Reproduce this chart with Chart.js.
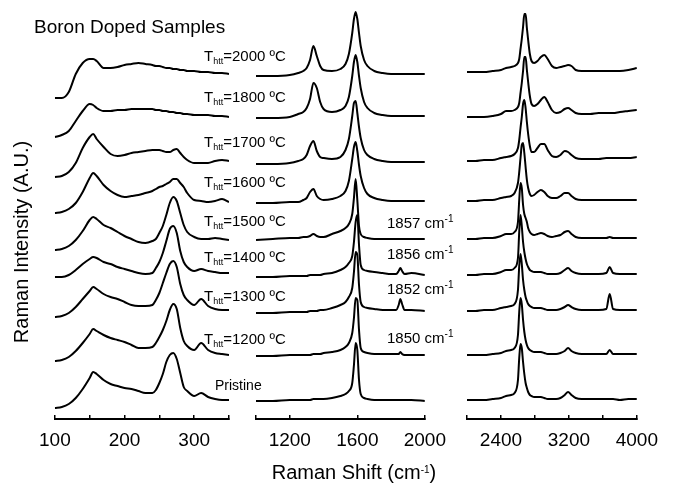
<!DOCTYPE html>
<html>
<head>
<meta charset="utf-8">
<script src="https://cdn.jsdelivr.net/npm/chart.js@4.4.0/dist/chart.umd.min.js"></script>
<style>
  body { margin: 0; background: #fff; }
  #fig { position: relative; width: 674px; height: 486px; overflow: hidden; font-family: "Liberation Sans", Arial, sans-serif; color: #000; }
  #fig canvas { position: absolute; top: 0; }
  .lbl { position: absolute; white-space: nowrap; transform: translateY(-50%); line-height: 1; }
  .lbl sub { font-size: 9px; vertical-align: -3px; }
  .lbl sup { font-size: 10px; vertical-align: 6px; }
  .temp { left: 204px; font-size: 15px; }
  .peak { left: 387px; font-size: 15px; }
</style>
</head>
<body>
<div id="fig">
  <canvas id="lowPanel" width="229" height="486" style="left:25px"></canvas>
  <canvas id="midPanel" width="229" height="486" style="left:231px"></canvas>
  <canvas id="highPanel" width="230" height="486" style="left:442px"></canvas>

  <div class="lbl" style="left:34px; top:26px; font-size:19px;">Boron Doped Samples</div>

  <div class="lbl temp" style="top:57px">T<sub>htt</sub>=2000 ºC</div>
  <div class="lbl temp" style="top:98px">T<sub>htt</sub>=1800 ºC</div>
  <div class="lbl temp" style="top:143px">T<sub>htt</sub>=1700 ºC</div>
  <div class="lbl temp" style="top:183px">T<sub>htt</sub>=1600 ºC</div>
  <div class="lbl temp" style="top:222px">T<sub>htt</sub>=1500 ºC</div>
  <div class="lbl temp" style="top:258px">T<sub>htt</sub>=1400 ºC</div>
  <div class="lbl temp" style="top:297px">T<sub>htt</sub>=1300 ºC</div>
  <div class="lbl temp" style="top:340px">T<sub>htt</sub>=1200 ºC</div>
  <div class="lbl" style="left:215px; top:385px; font-size:14px;">Pristine</div>

  <div class="lbl peak" style="top:222px">1857 cm<sup>-1</sup></div>
  <div class="lbl peak" style="top:253px">1856 cm<sup>-1</sup></div>
  <div class="lbl peak" style="top:288px">1852 cm<sup>-1</sup></div>
  <div class="lbl peak" style="top:337px">1850 cm<sup>-1</sup></div>

  <div class="lbl" style="left:21px; top:242px; font-size:20px; transform:translate(-50%,-50%) rotate(-90deg);">Raman Intensity (A.U.)</div>
  <div class="lbl" style="left:354px; top:472px; font-size:20px; transform:translate(-50%,-50%);">Raman Shift (cm<sup>-1</sup>)</div>
</div>

<script>
// samples, top to bottom
const samples = ['2000 ºC', '1800 ºC', '1700 ºC', '1600 ºC', '1500 ºC', '1400 ºC', '1300 ºC', '1200 ºC', 'Pristine'];

// Raman shift (cm-1) of the sampled points in each window
const shiftLow = [100, 110, 120, 130, 140, 150, 155, 160, 170, 180, 190, 200, 210, 220, 230, 240,
  245, 250, 255, 260, 265, 270, 275, 280, 285, 290, 300, 310, 320, 330, 340, 350];
const shiftMid = [1000, 1100, 1200, 1250, 1280, 1300, 1320, 1340, 1360, 1380, 1400, 1450, 1500, 1530,
  1550, 1570, 1580, 1590, 1600, 1610, 1620, 1640, 1660, 1700, 1750, 1800, 1830, 1845, 1855, 1865, 1880, 1920, 2000];
const shiftHigh = [2000, 2100, 2200, 2300, 2400, 2460, 2520, 2560, 2600, 2615, 2630, 2645, 2660, 2675,
  2690, 2705, 2720, 2740, 2760, 2790, 2830, 2870, 2910, 2950, 3000, 3050, 3100, 3150, 3190, 3230,
  3280, 3350, 3450, 3550, 3640, 3680, 3720, 3800, 3900, 4000];

// stacked intensities (A.U.), one row per sample
const lowSpectra = [
  [321, 321, 327, 345, 356, 360, 360, 358, 351, 351, 352, 354, 355, 356, 355, 354, 353, 353, 352, 351, 351, 350, 350, 349, 349, 348, 348, 347, 347, 346, 346, 345],
  [282, 284, 288, 298, 308, 315, 314, 311, 308, 308, 309, 309, 310, 310, 310, 310, 309, 309, 308, 308, 307, 307, 306, 306, 305, 305, 304, 304, 304, 303, 303, 302],
  [242, 243, 247, 256, 271, 282, 285, 280, 272, 265, 263, 264, 266, 267, 268, 269, 269, 269, 268, 267, 267, 269, 270, 266, 262, 259, 256, 256, 256, 258, 259, 258],
  [206, 207, 210, 216, 227, 241, 246, 243, 234, 228, 224, 222, 223, 224, 226, 228, 230, 232, 233, 235, 237, 240, 240, 236, 232, 226, 219, 218, 217, 218, 220, 217],
  [169, 170, 173, 179, 188, 199, 202, 200, 194, 191, 187, 183, 180, 177, 176, 178, 180, 186, 193, 204, 216, 222, 218, 206, 194, 187, 182, 180, 180, 181, 180, 179],
  [142, 142, 144, 149, 155, 160, 162, 161, 157, 155, 152, 150, 148, 146, 145, 146, 151, 157, 166, 178, 190, 193, 186, 168, 157, 152, 148, 150, 148, 147, 146, 146],
  [102, 103, 106, 112, 120, 128, 132, 130, 125, 122, 120, 117, 114, 113, 113, 114, 119, 126, 136, 146, 155, 158, 152, 135, 124, 119, 114, 120, 113, 110, 109, 109],
  [58, 59, 62, 68, 76, 85, 90, 88, 84, 81, 79, 77, 74, 71, 71, 72, 76, 82, 89, 98, 109, 115, 110, 91, 78, 73, 69, 76, 69, 66, 65, 64],
  [11, 12, 15, 21, 30, 41, 47, 45, 39, 35, 33, 31, 30, 28, 26, 26, 29, 36, 45, 57, 64, 66, 60, 46, 32, 28, 23, 26, 22, 20, 19, 19]
];
const midSpectra = [
  [343, 343, 344, 346, 348, 351, 359, 373, 363, 353, 349, 348, 350, 355, 365, 386, 400, 407, 400, 386, 373, 359, 353, 348, 346, 345, 345, 345, 345, 345, 345, 345, 345],
  [301, 301, 302, 305, 307, 311, 320, 336, 331, 317, 310, 307, 309, 313, 322, 343, 357, 364, 357, 343, 331, 317, 311, 306, 304, 303, 303, 303, 303, 303, 303, 303, 303],
  [255, 255, 256, 258, 260, 264, 273, 278, 268, 262, 261, 260, 262, 269, 280, 303, 316, 318, 306, 292, 281, 269, 264, 260, 258, 257, 257, 257, 257, 257, 257, 257, 257],
  [216, 216, 217, 217, 219, 221, 227, 230, 223, 220, 219, 220, 223, 228, 238, 260, 272, 277, 268, 254, 243, 231, 225, 221, 219, 218, 218, 218, 218, 218, 218, 218, 218],
  [179, 180, 181, 181, 182, 182, 183, 185, 183, 182, 182, 185, 188, 191, 195, 205, 221, 240, 219, 193, 185, 182, 181, 180, 180, 180, 180, 180, 180, 180, 180, 180, 180],
  [142, 142, 143, 143, 143, 143, 144, 144, 144, 144, 145, 146, 149, 152, 156, 163, 177, 197, 204, 174, 154, 149, 148, 147, 146, 145, 145, 148, 151, 148, 145, 146, 144],
  [106, 106, 107, 107, 107, 107, 108, 108, 108, 109, 109, 111, 114, 117, 122, 131, 147, 167, 164, 134, 117, 112, 111, 110, 109, 109, 109, 114, 120, 115, 109, 109, 108],
  [63, 63, 64, 64, 64, 64, 64, 65, 65, 65, 66, 67, 69, 72, 76, 86, 101, 121, 119, 89, 71, 67, 66, 65, 65, 65, 65, 65, 67, 65, 64, 64, 64],
  [18, 18, 19, 19, 19, 19, 19, 20, 20, 20, 20, 21, 23, 25, 28, 36, 54, 76, 69, 39, 25, 21, 20, 19, 19, 19, 19, 19, 19, 19, 19, 19, 18]
];
const highSpectra = [
  [347, 347, 347, 348, 349, 351, 352, 353, 356, 360, 370, 380, 392, 405, 405, 391, 379, 365, 358, 356, 358, 362, 364, 360, 353, 351, 352, 353, 354, 353, 349, 348, 348, 348, 348, 348, 348, 348, 349, 351],
  [302, 302, 302, 303, 305, 308, 308, 309, 312, 316, 326, 336, 348, 362, 362, 349, 337, 323, 315, 313, 315, 319, 322, 317, 309, 306, 307, 310, 311, 309, 306, 305, 305, 306, 306, 306, 306, 307, 308, 309],
  [258, 258, 259, 259, 261, 262, 263, 265, 271, 279, 291, 302, 315, 319, 311, 297, 285, 273, 267, 267, 271, 275, 275, 269, 263, 262, 264, 268, 267, 264, 261, 260, 260, 260, 261, 261, 261, 261, 261, 262],
  [218, 218, 219, 219, 221, 222, 223, 226, 236, 247, 261, 274, 276, 266, 252, 239, 231, 225, 223, 224, 227, 229, 227, 223, 221, 221, 223, 226, 226, 223, 220, 219, 219, 219, 219, 219, 219, 219, 219, 219],
  [180, 180, 181, 181, 183, 185, 185, 187, 197, 219, 236, 231, 214, 205, 201, 197, 191, 187, 185, 184, 185, 186, 185, 183, 182, 183, 184, 187, 188, 185, 182, 181, 181, 181, 181, 182, 181, 181, 181, 181],
  [144, 144, 145, 145, 147, 149, 149, 151, 161, 187, 204, 193, 177, 167, 160, 155, 152, 149, 148, 147, 147, 147, 146, 145, 145, 145, 146, 149, 151, 148, 146, 145, 145, 145, 146, 152, 146, 145, 145, 145],
  [108, 108, 109, 109, 111, 112, 113, 115, 129, 153, 165, 155, 139, 129, 122, 118, 115, 113, 112, 111, 111, 111, 110, 109, 109, 109, 110, 112, 114, 112, 110, 109, 109, 109, 110, 125, 110, 109, 109, 109],
  [64, 64, 64, 65, 66, 68, 69, 71, 84, 107, 121, 115, 99, 87, 79, 74, 71, 69, 68, 67, 67, 67, 66, 65, 65, 65, 66, 68, 71, 68, 66, 65, 65, 65, 65, 69, 65, 65, 65, 65],
  [19, 19, 19, 20, 21, 23, 24, 26, 39, 61, 75, 71, 57, 45, 36, 31, 27, 24, 23, 22, 22, 22, 21, 20, 20, 20, 21, 24, 27, 24, 21, 20, 20, 20, 20, 20, 20, 19, 20, 20]
];

// axis ticks
const ticksLow = [100, 150, 200, 250, 300, 350];
const labelsLow = [100, 200, 300];
const ticksMid = [1000, 1200, 1600, 2000];
const labelsMid = [1200, 1600, 2000];
const ticksHigh = [2000, 2400, 2800, 3200, 3600, 4000];
const labelsHigh = [2400, 3200, 4000];

const fontFamily = '"Liberation Sans", Arial, sans-serif';

function makePanel(id, shift, spectra, min, max, tickValues, labelled) {
  new Chart(document.getElementById(id), {
    type: 'line',
    data: {
      datasets: spectra.map((vals, k) => ({
        label: samples[k],
        data: shift.map((x, i) => ({ x: x, y: vals[i] })),
        borderColor: '#000',
        borderWidth: 2,
        pointRadius: 0,
        cubicInterpolationMode: 'monotone',
        fill: false
      }))
    },
    options: {
      responsive: false,
      animation: false,
      events: [],
      layout: { padding: { left: 25, right: 25, top: 0, bottom: 0 } },
      plugins: { legend: { display: false }, tooltip: { enabled: false } },
      scales: {
        x: {
          type: 'linear',
          min: min,
          max: max,
          afterBuildTicks: s => { s.ticks = tickValues.map(v => ({ value: v })); },
          afterFit: s => { s.height = 67; },
          ticks: {
            autoSkip: false,
            maxRotation: 0,
            padding: 14,
            color: '#000',
            font: { family: fontFamily, size: 19 },
            callback: v => labelled.includes(v) ? String(v) : ''
          },
          grid: { drawOnChartArea: false, tickLength: -4, color: '#000', lineWidth: 1.5 },
          border: { color: '#000', width: 2 }
        },
        y: { display: false, min: 0, max: 419 }
      }
    }
  });
}

makePanel('lowPanel', shiftLow, lowSpectra, 100, 350, ticksLow, labelsLow);
makePanel('midPanel', shiftMid, midSpectra, 1000, 2000, ticksMid, labelsMid);
makePanel('highPanel', shiftHigh, highSpectra, 2000, 4000, ticksHigh, labelsHigh);
</script>
</body>
</html>
